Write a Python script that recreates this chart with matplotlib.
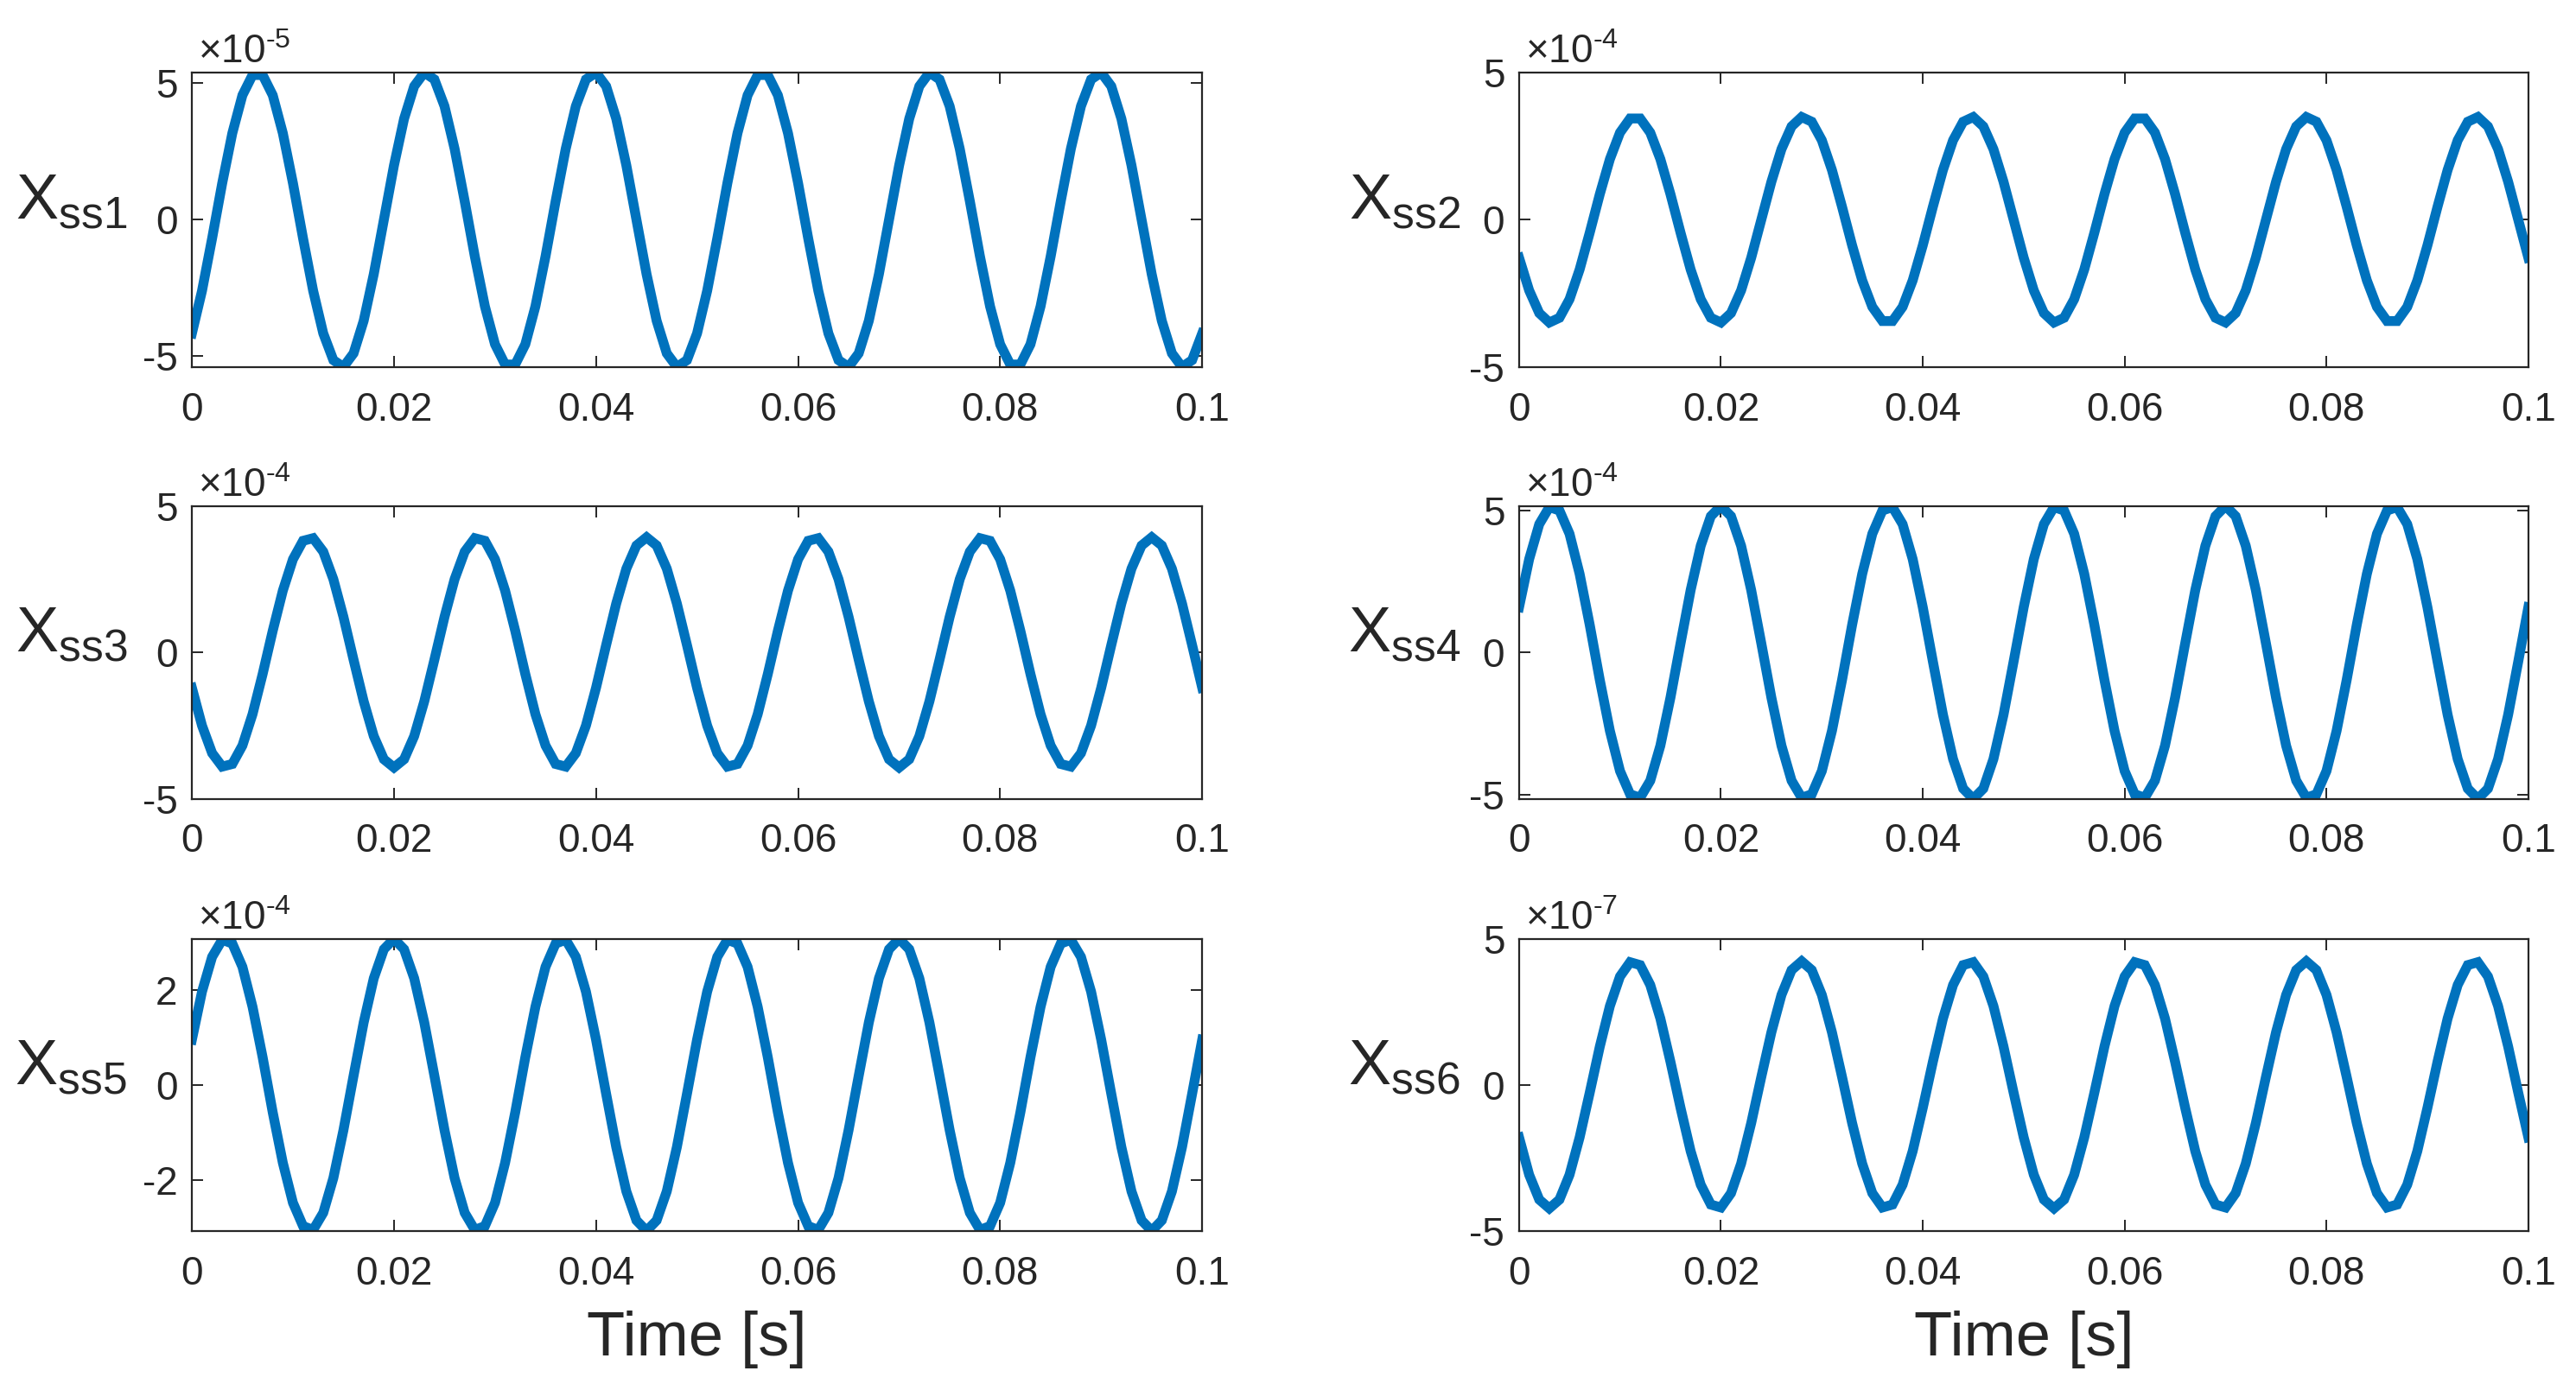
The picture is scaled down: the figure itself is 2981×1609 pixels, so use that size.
import numpy as np
import matplotlib.pyplot as plt

# steady-state responses, one sample per ms over 0.1 s
time = np.linspace(0, 0.1, 101)

# values in units of the axis multiplier (see exponents below)
x_ss1 = [-4.16, -2.60, -0.68, 1.34, 3.17, 4.56, 5.30, 5.30, 4.56, 3.17,
         1.34, -0.68, -2.60, -4.16, -5.14, -5.39, -4.89, -3.70, -1.99, 0.00,
         1.99, 3.70, 4.89, 5.39, 5.14, 4.16, 2.60, 0.68, -1.34, -3.17,
         -4.56, -5.30, -5.30, -4.56, -3.17, -1.34, 0.68, 2.60, 4.16, 5.14,
         5.39, 4.89, 3.70, 1.99, 0.00, -1.99, -3.70, -4.89, -5.39, -5.14,
         -4.16, -2.60, -0.68, 1.34, 3.17, 4.56, 5.30, 5.30, 4.56, 3.17,
         1.34, -0.68, -2.60, -4.16, -5.14, -5.39, -4.89, -3.70, -1.99, 0.00,
         1.99, 3.70, 4.89, 5.39, 5.14, 4.16, 2.60, 0.68, -1.34, -3.17,
         -4.56, -5.30, -5.30, -4.56, -3.17, -1.34, 0.68, 2.60, 4.16, 5.14,
         5.39, 4.89, 3.70, 1.99, 0.00, -1.99, -3.70, -4.89, -5.39, -5.14,
         -4.16]

x_ss2 = [-1.29, -2.40, -3.17, -3.49, -3.33, -2.70, -1.69, -0.44, 0.87, 2.06,
         2.96, 3.44, 3.44, 2.96, 2.06, 0.87, -0.44, -1.69, -2.70, -3.33,
         -3.49, -3.17, -2.40, -1.29, 0.00, 1.29, 2.40, 3.17, 3.49, 3.33,
         2.70, 1.69, 0.44, -0.87, -2.06, -2.96, -3.44, -3.44, -2.96, -2.06,
         -0.87, 0.44, 1.69, 2.70, 3.33, 3.49, 3.17, 2.40, 1.29, 0.00,
         -1.29, -2.40, -3.17, -3.49, -3.33, -2.70, -1.69, -0.44, 0.87, 2.06,
         2.96, 3.44, 3.44, 2.96, 2.06, 0.87, -0.44, -1.69, -2.70, -3.33,
         -3.49, -3.17, -2.40, -1.29, 0.00, 1.29, 2.40, 3.17, 3.49, 3.33,
         2.70, 1.69, 0.44, -0.87, -2.06, -2.96, -3.44, -3.44, -2.96, -2.06,
         -0.87, 0.44, 1.69, 2.70, 3.33, 3.49, 3.17, 2.40, 1.29, 0.00,
         -1.29]

x_ss3 = [-1.21, -2.50, -3.44, -3.90, -3.81, -3.18, -2.11, -0.74, 0.74, 2.11,
         3.18, 3.81, 3.90, 3.44, 2.50, 1.21, -0.25, -1.67, -2.86, -3.65,
         -3.93, -3.65, -2.86, -1.67, -0.25, 1.21, 2.50, 3.44, 3.90, 3.81,
         3.18, 2.11, 0.74, -0.74, -2.11, -3.18, -3.81, -3.90, -3.44, -2.50,
         -1.21, 0.25, 1.67, 2.86, 3.65, 3.93, 3.65, 2.86, 1.67, 0.25,
         -1.21, -2.50, -3.44, -3.90, -3.81, -3.18, -2.11, -0.74, 0.74, 2.11,
         3.18, 3.81, 3.90, 3.44, 2.50, 1.21, -0.25, -1.67, -2.86, -3.65,
         -3.93, -3.65, -2.86, -1.67, -0.25, 1.21, 2.50, 3.44, 3.90, 3.81,
         3.18, 2.11, 0.74, -0.74, -2.11, -3.18, -3.81, -3.90, -3.44, -2.50,
         -1.21, 0.25, 1.67, 2.86, 3.65, 3.93, 3.65, 2.86, 1.67, 0.25,
         -1.21]

x_ss4 = [1.59, 3.28, 4.51, 5.11, 4.99, 4.17, 2.76, 0.97, -0.97, -2.76,
         -4.17, -4.99, -5.11, -4.51, -3.28, -1.59, 0.32, 2.19, 3.75, 4.79,
         5.15, 4.79, 3.75, 2.19, 0.32, -1.59, -3.28, -4.51, -5.11, -4.99,
         -4.17, -2.76, -0.97, 0.97, 2.76, 4.17, 4.99, 5.11, 4.51, 3.28,
         1.59, -0.32, -2.19, -3.75, -4.79, -5.15, -4.79, -3.75, -2.19, -0.32,
         1.59, 3.28, 4.51, 5.11, 4.99, 4.17, 2.76, 0.97, -0.97, -2.76,
         -4.17, -4.99, -5.11, -4.51, -3.28, -1.59, 0.32, 2.19, 3.75, 4.79,
         5.15, 4.79, 3.75, 2.19, 0.32, -1.59, -3.28, -4.51, -5.11, -4.99,
         -4.17, -2.76, -0.97, 0.97, 2.76, 4.17, 4.99, 5.11, 4.51, 3.28,
         1.59, -0.32, -2.19, -3.75, -4.79, -5.15, -4.79, -3.75, -2.19, -0.32,
         1.59]

x_ss5 = [0.95, 1.96, 2.69, 3.05, 2.97, 2.48, 1.64, 0.58, -0.58, -1.64,
         -2.48, -2.97, -3.05, -2.69, -1.96, -0.95, 0.19, 1.31, 2.24, 2.85,
         3.07, 2.85, 2.24, 1.31, 0.19, -0.95, -1.96, -2.69, -3.05, -2.97,
         -2.48, -1.64, -0.58, 0.58, 1.64, 2.48, 2.97, 3.05, 2.69, 1.96,
         0.95, -0.19, -1.31, -2.24, -2.85, -3.07, -2.85, -2.24, -1.31, -0.19,
         0.95, 1.96, 2.69, 3.05, 2.97, 2.48, 1.64, 0.58, -0.58, -1.64,
         -2.48, -2.97, -3.05, -2.69, -1.96, -0.95, 0.19, 1.31, 2.24, 2.85,
         3.07, 2.85, 2.24, 1.31, 0.19, -0.95, -1.96, -2.69, -3.05, -2.97,
         -2.48, -1.64, -0.58, 0.58, 1.64, 2.48, 2.97, 3.05, 2.69, 1.96,
         0.95, -0.19, -1.31, -2.24, -2.85, -3.07, -2.85, -2.24, -1.31, -0.19,
         0.95]

x_ss6 = [-1.80, -3.08, -3.93, -4.23, -3.93, -3.08, -1.80, -0.27, 1.31, 2.70,
         3.71, 4.20, 4.10, 3.42, 2.27, 0.79, -0.79, -2.27, -3.42, -4.10,
         -4.20, -3.71, -2.70, -1.31, 0.27, 1.80, 3.08, 3.93, 4.23, 3.93,
         3.08, 1.80, 0.27, -1.31, -2.70, -3.71, -4.20, -4.10, -3.42, -2.27,
         -0.79, 0.79, 2.27, 3.42, 4.10, 4.20, 3.71, 2.70, 1.31, -0.27,
         -1.80, -3.08, -3.93, -4.23, -3.93, -3.08, -1.80, -0.27, 1.31, 2.70,
         3.71, 4.20, 4.10, 3.42, 2.27, 0.79, -0.79, -2.27, -3.42, -4.10,
         -4.20, -3.71, -2.70, -1.31, 0.27, 1.80, 3.08, 3.93, 4.23, 3.93,
         3.08, 1.80, 0.27, -1.31, -2.70, -3.71, -4.20, -4.10, -3.42, -2.27,
         -0.79, 0.79, 2.27, 3.42, 4.10, 4.20, 3.71, 2.70, 1.31, -0.27,
         -1.80]

series = [x_ss1, x_ss2, x_ss3, x_ss4, x_ss5, x_ss6]
names = ['ss1', 'ss2', 'ss3', 'ss4', 'ss5', 'ss6']
exponents = [-5, -4, -4, -4, -4, -7]
yticks = [[-5, 0, 5], [-5, 0, 5], [-5, 0, 5], [-5, 0, 5], [-2, 0, 2], [-5, 0, 5]]
fixed_ylim = [None, (-5, 5), (-5, 5), None, None, (-5, 5)]  # None -> tight to data
xticks = [0, 0.02, 0.04, 0.06, 0.08, 0.1]
xtick_labels = ['0', '0.02', '0.04', '0.06', '0.08', '0.1']

plt.rcParams['font.family'] = 'Liberation Sans'
plt.rcParams['mathtext.fontset'] = 'custom'
plt.rcParams['mathtext.rm'] = 'Liberation Sans'
plt.rcParams['mathtext.it'] = 'Liberation Sans:italic'
plt.rcParams['axes.unicode_minus'] = False

dark = '#262626'
blue = '#0072BD'

fig = plt.figure(figsize=(29.81, 16.09), dpi=100)

col_left = [0.0745, 0.5897]
col_width = [0.3922, 0.3918]
rows = [(0.7360, 0.2118), (0.4253, 0.2107), (0.1145, 0.2101)]

for i, vals in enumerate(series):
    r, c = divmod(i, 2)
    ax = fig.add_axes([col_left[c], rows[r][0], col_width[c], rows[r][1]])
    ax.plot(time, vals, color=blue, lw=8.2, solid_joinstyle='miter')

    ax.set_xlim(0, 0.1)
    if fixed_ylim[i] is None:
        ax.set_ylim(min(vals), max(vals))
    else:
        ax.set_ylim(*fixed_ylim[i])

    ax.set_xticks(xticks)
    ax.set_xticklabels(xtick_labels)
    ax.set_yticks(yticks[i])
    ax.set_yticklabels([str(v) for v in yticks[i]])

    ax.tick_params(direction='in', length=9.4, width=1.4, top=True, right=True,
                   labelsize=33, colors=dark)
    ax.tick_params(axis='x', pad=20)
    ax.tick_params(axis='y', pad=12)
    for sp in ax.spines.values():
        sp.set_linewidth(1.6)
        sp.set_color(dark)

    ax.set_ylabel(r'$\mathregular{X_{%s}}$' % names[i], rotation=0, fontsize=53,
                  color=dark, ha='right', va='baseline')
    ax.yaxis.set_label_coords(-0.064 if c == 0 else -0.058, 0.5035)

    ax.annotate(r'×10$^{\text{%d}}$' % exponents[i], xy=(0, 1), xycoords='axes fraction',
                xytext=(7, 11), textcoords='offset pixels', ha='left', va='baseline',
                fontsize=33, color=dark)

    if r == 2:
        ax.set_xlabel('Time [s]', fontsize=52, color=dark, va='baseline')
        ax.xaxis.set_label_coords(0.5, -0.427)

fig.savefig('out.png', dpi=100)
